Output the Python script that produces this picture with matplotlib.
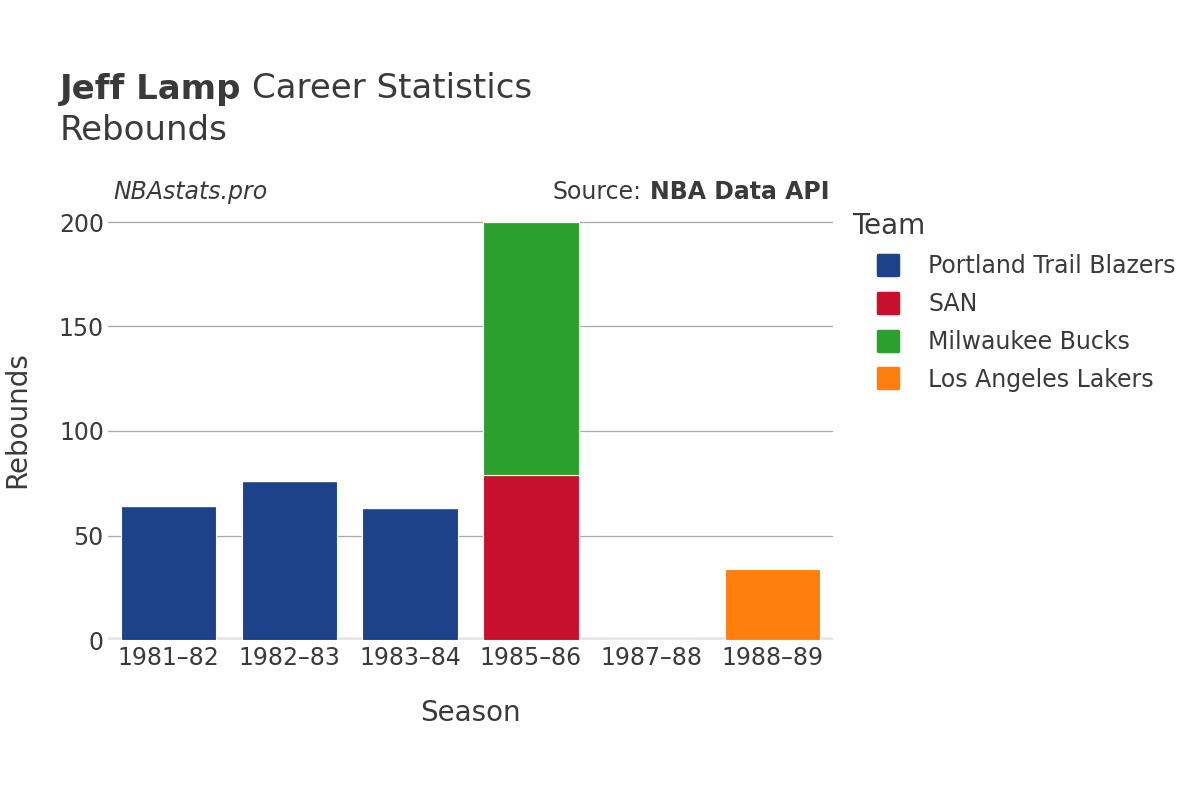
import matplotlib
matplotlib.use("Agg")
import matplotlib.pyplot as plt
from matplotlib.lines import Line2D
from matplotlib.markers import MarkerStyle
import numpy as np

seasons = ["1981–82", "1982–83", "1983–84", "1985–86", "1987–88", "1988–89"]
teams = ["Portland Trail Blazers", "SAN", "Milwaukee Bucks", "Los Angeles Lakers"]
portland = [64, 76, 63, 0, 0, 0]
san = [0, 0, 0, 79, 0, 0]
milwaukee = [0, 0, 0, 121, 0, 0]
lakers = [0, 0, 0, 0, 0, 34]
series = [portland, san, milwaukee, lakers]
colors = ["#1d428a", "#c8102e", "#2ca02c", "#ff7f0e"]

txt = "#3a3a3a"
plt.rcParams['font.family'] = ['DejaVu Sans']

fig = plt.figure(figsize=(12, 8), dpi=100)
ax = fig.add_axes([108/1200, 1 - 640/800, (833-108)/1200, (640-210)/800])

x = np.arange(len(seasons))
bottom = np.zeros(len(seasons))
for vals, c in zip(series, colors):
    v = np.array(vals, dtype=float)
    ax.bar(x, v, width=0.79, bottom=bottom, color=c, edgecolor="white", linewidth=0.8, zorder=3)
    bottom += v

ax.set_xlim(-0.5, len(seasons) - 0.5)
ax.set_ylim(0, 200 * 430 / 418)
ax.set_yticks([0, 50, 100, 150, 200])
ax.set_xticks(x)
ax.set_xticklabels(seasons)
ax.tick_params(axis='both', length=0, labelsize=17, colors=txt, pad=4)
ax.tick_params(axis='y', pad=3)
for s in ax.spines.values():
    s.set_visible(False)
ax.grid(axis='y', color="#a8a8a8", linewidth=0.9, zorder=0)
ax.axhline(0, color="#e6e6e6", linewidth=4, zorder=2)
ax.set_axisbelow(True)

ax.set_ylabel("Rebounds", fontsize=20, color=txt)
ax.yaxis.set_label_coords((31 - 108) / 725, (640 - 420) / 430)
ax.set_xlabel("Season", fontsize=20, color=txt, labelpad=21)

t1 = fig.text(60/1200, 1 - 89/800, "Jeff Lamp", fontsize=24.5, color=txt, va="center", ha="left", fontweight="bold")
fig.canvas.draw()
bb = t1.get_window_extent()
fig.text((bb.x1 + 11)/1200, 1 - 89/800, "Career Statistics", fontsize=24.5, color=txt, va="center", ha="left")
fig.text(60/1200, 1 - 131/800, "Rebounds", fontsize=24.5, color=txt, va="center", ha="left")

fig.text(113/1200, 1 - 192/800, "NBAstats.pro", fontsize=17, style="italic", color=txt, va="center", ha="left")
s1 = fig.text(830/1200, 1 - 192/800, "NBA Data API", fontsize=17, fontweight="bold", color=txt, va="center", ha="right")
fig.canvas.draw()
bb2 = s1.get_window_extent()
fig.text((bb2.x0 - 9)/1200, 1 - 192/800, "Source:", fontsize=17, color=txt, va="center", ha="right")

fig.text(852/1200, 1 - 226/800, "Team", fontsize=20, color=txt, va="center", ha="left")
mk = MarkerStyle('s', joinstyle='round')
handles = [Line2D([0], [0], marker=mk, linestyle='none', markersize=14.5, markerfacecolor=c,
                  markeredgecolor=c, markeredgewidth=2.5) for c in colors]
leg = fig.legend(handles, teams, loc="upper left", bbox_to_anchor=(860/1200, 1 - 245/800),
                 frameon=False, fontsize=17,
                 labelspacing=0.58, handletextpad=0.9, borderaxespad=0, handlelength=1.6)
for t in leg.get_texts():
    t.set_color(txt)

fig.savefig("out.png", dpi=100)
